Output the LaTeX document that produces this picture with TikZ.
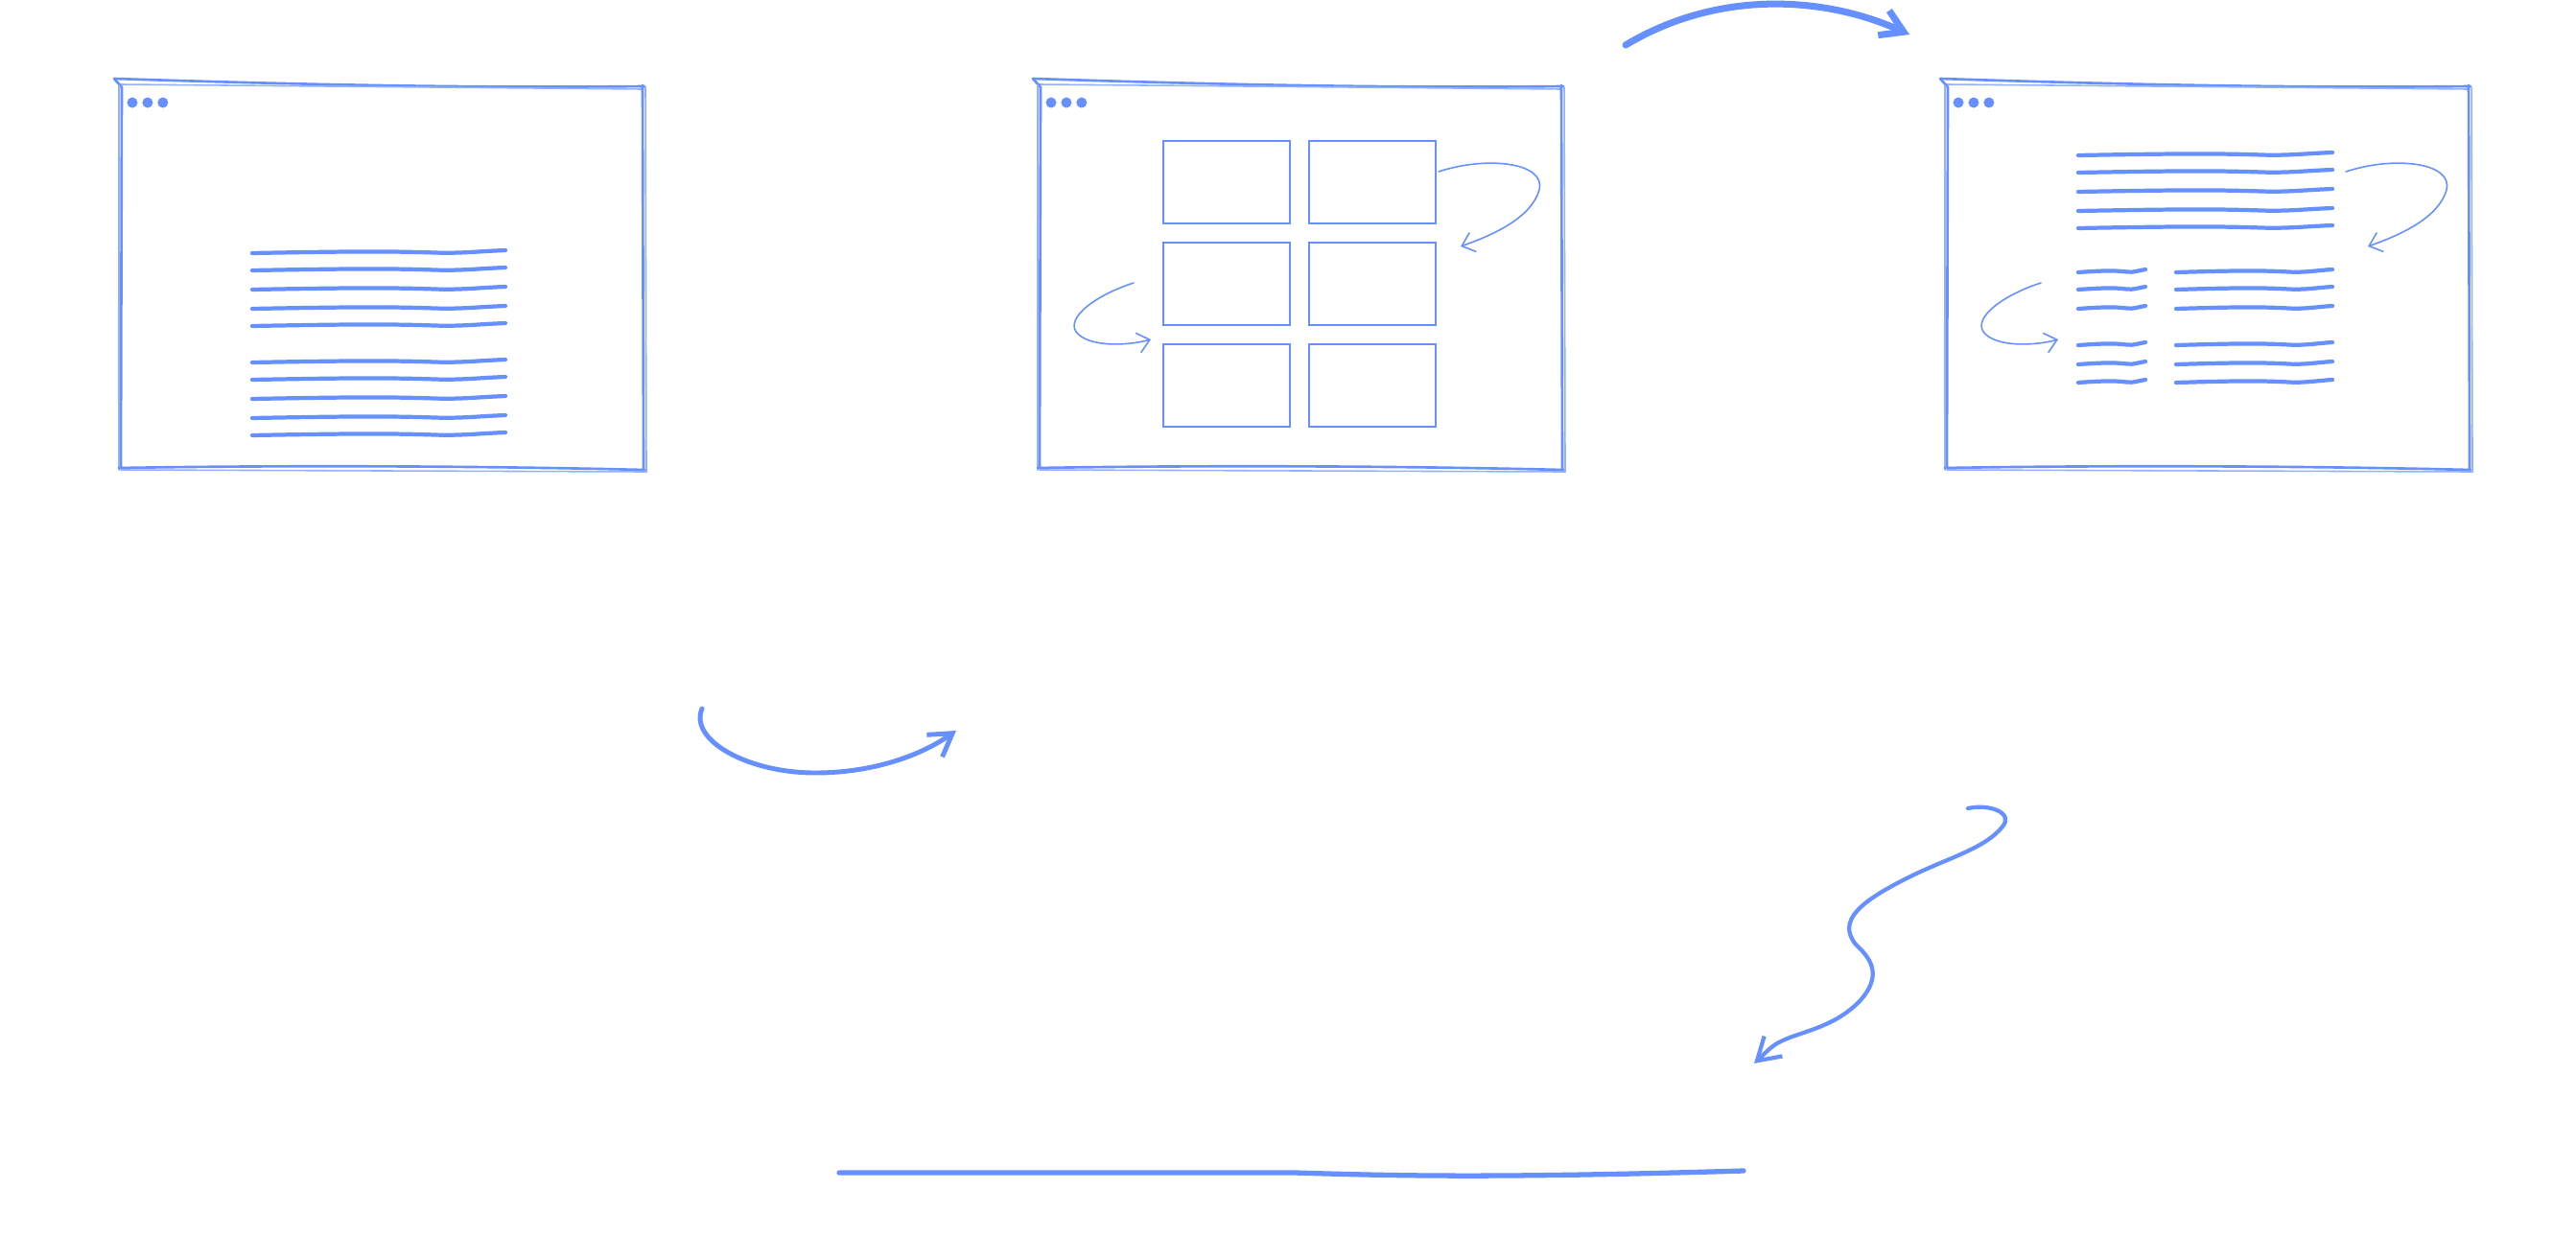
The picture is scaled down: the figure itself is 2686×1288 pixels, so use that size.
\documentclass[tikz,border=0pt]{standalone}
\usepackage{tikz}
\usetikzlibrary{arrows.meta, positioning}
\definecolor{sketch}{RGB}{102,144,255}
\tikzset{
  winframe/.style={draw=sketch, line width=0.75pt, line cap=round},
  winghost/.style={draw=sketch!70, line width=0.45pt, line cap=round},
  windot/.style={circle, fill=sketch, inner sep=0pt, minimum size=0.11cm},
  textline/.style={draw=sketch, line width=1.2pt, line cap=round},
  gridbox/.style={
    rectangle, draw=sketch, line width=0.6pt, inner sep=0pt,
    minimum width=1.32cm, minimum height=0.86cm
  },
  swaparrow/.style={draw=sketch, line width=0.45pt, line cap=round,
    -{Straight Barb[length=3.5pt, width=6pt]}},
  flowarrow/.style={draw=sketch, line width=#1, line cap=round,
    -{Straight Barb[length=6.5pt, width=8pt]}},
}
% one wavy line of text, from x=#1 to x=#2 at height #3
\newcommand{\sketchline}[3]{%
  \pgfmathsetmacro{\slen}{#2-#1}%
  \draw[textline] (#1,#3+2) .. controls +(0.4*\slen,-2) and +(-0.17*\slen,-1.5) .. ({#1+0.72*\slen},#3+1.5)
    .. controls +(0.1*\slen,1) and +(-0.1*\slen,1) .. (#2,#3-1);}

\begin{document}
\begin{tikzpicture}[x=0.01cm, y=-0.01cm]
  \fill[white] (0,0) rectangle (2686,1288);
  \useasboundingbox (0,0) rectangle (2686,1288);

  % browser windows
  \foreach \wx/\wn in {124/w1, 1082/w2, 2028/w3} {
    \begin{scope}[shift={(\wx,86)}]
      \draw[winframe] (-5,-4) .. controls (180,2) and (360,6) .. (548,4);
      \draw[winghost] (1,2) -- (546,7);
      \draw[winframe] (-5,-4) -- (3,5) -- (2,402);
      \draw[winghost] (0,3) -- (0,404);
      \draw[winframe] (546,3) -- (547,404);
      \draw[winghost] (549,5) -- (550,406);
      \draw[winframe] (0,402) .. controls (180,399) and (380,400) .. (548,404);
      \draw[winghost] (2,404) -- (550,406);
      \node[windot] (\wn-d1) at (14,21) {};
      \node[windot, right=0.035cm of \wn-d1] (\wn-d2) {};
      \node[windot, right=0.035cm of \wn-d2] (\wn-d3) {};
    \end{scope}
  }

  % window 1: plain text
  \begin{scope}[shift={(124,86)}]
    \foreach \ly in {176,194,214,234,252,290,308,328,348,366}
      \sketchline{139}{403}{\ly};
  \end{scope}

  % window 2: grid of cards
  \begin{scope}[shift={(1082,86)}]
    \node[gridbox] (c11) at (197,104) {};
    \node[gridbox, right=0.18cm of c11] (c12) {};
    \node[gridbox, below=0.18cm of c11] (c21) {};
    \node[gridbox, right=0.18cm of c21] (c22) {};
    \node[gridbox, below=0.18cm of c21] (c31) {};
    \node[gridbox, right=0.18cm of c31] (c32) {};
  \end{scope}

  % window 3: text in columns
  \begin{scope}[shift={(2028,86)}]
    \foreach \ly in {74,92,112,132,150}
      \sketchline{139}{404}{\ly};
    \foreach \ly in {196,214,234,272,292,311} {
      \sketchline{139}{209}{\ly};
      \sketchline{241}{404}{\ly};
    }
  \end{scope}

  % reflow arrows inside windows 2 and 3
  \foreach \wx/\wn in {1082/w2, 2028/w3} {
    \begin{scope}[shift={(\wx,86)}]
      \coordinate (\wn-ra) at (418,93);
      \coordinate (\wn-rb) at (441,171);
      \coordinate (\wn-la) at (100,209);
      \coordinate (\wn-lb) at (118,268);
      \draw[swaparrow] (\wn-ra) .. controls (470,76) and (530,84) .. (523,112)
        .. controls (515,140) and (478,158) .. (\wn-rb);
      \draw[swaparrow] (\wn-la) .. controls (60,222) and (30,245) .. (40,260)
        .. controls (52,276) and (92,275) .. (\wn-lb);
    \end{scope}
  }

  % loose strokes
  \coordinate (topA) at (1695,47);
  \coordinate (topB) at (1991,36);
  \draw[flowarrow=2pt] (topA) .. controls (1790,-10) and (1900,-5) .. (topB);

  \coordinate (curlA) at (732,739);
  \coordinate (curlB) at (997,762);
  \draw[flowarrow=1.4pt] (curlA) .. controls (718,772) and (780,806) .. (850,806)
    .. controls (910,806) and (960,788) .. (curlB);

  \coordinate (waveA) at (2052,843);
  \coordinate (waveB) at (1829,1109);
  \draw[flowarrow=1.2pt] (waveA) .. controls (2075,838) and (2100,848) .. (2088,862)
    .. controls (2070,885) and (2030,895) .. (1990,915)
    .. controls (1940,940) and (1915,960) .. (1935,985)
    .. controls (1955,1003) and (1960,1020) .. (1940,1043)
    .. controls (1910,1075) and (1870,1076) .. (1850,1090)
    .. controls (1844,1094) and (1839,1100) .. (waveB);

  \coordinate (baseA) at (875,1223);
  \coordinate (baseB) at (1818,1221);
  \draw[textline, line width=1.5pt] (baseA) -- (1350,1223)
    .. controls (1450,1226) and (1550,1229) .. (baseB);
\end{tikzpicture}
\end{document}
